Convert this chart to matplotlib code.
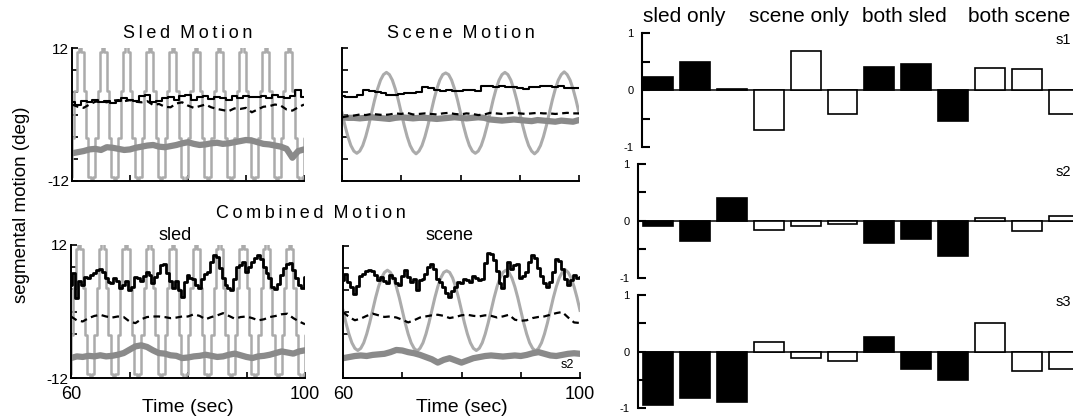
import matplotlib
matplotlib.use("Agg")
import matplotlib.pyplot as plt
import numpy as np

plt.rcParams['font.family'] = ['Liberation Sans', 'DejaVu Sans']

# ---------------- time series data ----------------
t_stair = np.linspace(59.6, 100.4, 103)      # sled stimulus steps, 0.4 s
t_half = np.linspace(60, 100, 81)            # 0.5 s samples
t_one = np.linspace(60, 100, 41)             # 1 s samples

sled_stim = [
    -11.3, -4.3, 4.3, 11.3, 14.0, 11.3, 4.3, -4.3, -11.3, -14.0,
    -11.3, -4.3, 4.3, 11.3, 14.0, 11.3, 4.3, -4.3, -11.3, -14.0,
    -11.3, -4.3, 4.3, 11.3, 14.0, 11.3, 4.3, -4.3, -11.3, -14.0,
    -11.3, -4.3, 4.3, 11.3, 14.0, 11.3, 4.3, -4.3, -11.3, -14.0,
    -11.3, -4.3, 4.3, 11.3, 14.0, 11.3, 4.3, -4.3, -11.3, -14.0,
    -11.3, -4.3, 4.3, 11.3, 14.0, 11.3, 4.3, -4.3, -11.3, -14.0,
    -11.3, -4.3, 4.3, 11.3, 14.0, 11.3, 4.3, -4.3, -11.3, -14.0,
    -11.3, -4.3, 4.3, 11.3, 14.0, 11.3, 4.3, -4.3, -11.3, -14.0,
    -11.3, -4.3, 4.3, 11.3, 14.0, 11.3, 4.3, -4.3, -11.3, -14.0,
    -11.3, -4.3, 4.3, 11.3, 14.0, 11.3, 4.3, -4.3, -11.3, -14.0,
    -11.3, -4.3, 4.3,
]

scene_stim = [
    0.3, -2.0, -4.0, -5.6, -6.6, -7.0, -6.6, -5.6, -4.0, -2.0,
    0.3, 2.6, 4.6, 6.2, 7.2, 7.6, 7.2, 6.2, 4.6, 2.6,
    0.3, -2.0, -4.0, -5.6, -6.6, -7.1, -6.6, -5.6, -4.0, -2.0,
    0.3, 2.6, 4.6, 6.2, 7.2, 7.5, 7.2, 6.2, 4.6, 2.6,
    0.3, -2.0, -4.0, -5.6, -6.6, -7.0, -6.6, -5.6, -4.0, -2.0,
    0.3, 2.6, 4.6, 6.2, 7.2, 7.6, 7.2, 6.2, 4.6, 2.6,
    0.3, -2.0, -4.0, -5.6, -6.6, -7.1, -6.6, -5.6, -4.0, -2.0,
    0.3, 2.6, 4.6, 6.2, 7.2, 7.7, 7.2, 6.2, 4.6, 2.6,
    0.3,
]

# Sled Motion (1 s)
sled_solid = [2.3, 1.8, 2.5, 2.2, 2.6, 2.3, 2.5, 2.1, 2.4, 2.9, 2.6, 2.5, 3.4, 3.5,
              2.2, 2.5, 2.9, 3.1, 2.6, 3.3, 3.5, 2.7, 3.1, 3.4, 2.8, 3.2, 3.0, 2.7,
              3.3, 3.0, 3.4, 3.1, 3.2, 3.4, 3.0, 3.5, 3.2, 3.0, 3.3, 4.4, 3.2]
sled_dash = [1.8, 1.4, 1.2, 1.8, 2.3, 2.4, 2.2, 2.5, 2.6, 2.4, 2.6, 2.3, 2.2, 2.4,
             1.7, 1.9, 1.4, 1.3, 2.0, 2.2, 1.6, 1.2, 1.5, 1.8, 1.3, 1.0, 0.8, 0.6,
             1.1, 1.0, 1.2, 0.4, 0.9, 1.4, 1.5, 1.8, 1.6, 0.9, 0.7, 1.3, 1.8]
sled_grey = [-7.0, -6.8, -6.6, -6.3, -6.2, -6.4, -5.9, -6.0, -6.2, -6.4, -6.3, -6.0,
             -5.8, -5.6, -5.5, -5.8, -5.9, -5.7, -5.5, -5.2, -5.0, -5.3, -5.5, -5.4,
             -5.2, -5.1, -5.3, -5.2, -5.0, -4.8, -4.6, -4.7, -5.0, -5.3, -5.4, -5.6,
             -5.8, -6.2, -7.8, -6.6, -6.3]

# Scene Motion (1 s)
scene_solid = [3.3, 3.1, 3.2, 3.6, 4.4, 4.2, 4.0, 3.8, 3.6, 3.6, 3.7, 3.8, 3.9, 4.0,
               5.0, 4.8, 4.5, 4.3, 4.4, 4.2, 4.3, 4.4, 4.5, 4.3, 5.1, 5.1, 5.0, 5.1,
               5.0, 4.9, 4.7, 4.6, 4.9, 5.0, 5.1, 5.2, 5.0, 5.1, 4.8, 4.7, 4.7]
scene_dash = [-0.5, -0.3, -0.2, 0.0, -0.1, 0.1, 0.0, -0.1, 0.0, 0.2, 0.1, 0.3, 0.0,
              0.1, 0.2, 0.1, 0.0, 0.2, 0.3, 0.1, 0.0, 0.2, 0.1, -0.1, 0.0, 0.3, 0.2,
              0.1, 0.2, 0.3, 0.2, 0.1, 0.2, 0.3, 0.2, 0.2, 0.1, 0.2, 0.3, 0.2, 0.2]
scene_grey = [-0.5, -0.6, -0.6, -0.7, -0.6, -0.5, -0.6, -0.7, -0.8, -0.6, -0.5, -0.6,
              -0.7, -0.6, -0.6, -0.7, -0.8, -0.7, -0.6, -0.5, -0.6, -0.7, -0.6, -0.5,
              -0.6, -0.9, -1.0, -1.1, -1.0, -0.9, -1.0, -1.1, -1.2, -1.0, -1.1, -1.2,
              -1.3, -1.1, -1.2, -1.3, -1.0]

# Combined Motion, sled (solid 0.5 s, others 1 s)
comb_sled_solid = [4.8, 6.9, 2.4, 5.5, 4.8, 6.3, 6.0, 6.6, 7.0, 7.5, 7.6, 7.2, 6.0, 5.4,
                   5.2, 6.0, 5.5, 4.2, 4.8, 5.5, 3.9, 4.5, 6.3, 6.0, 5.5, 6.4, 7.2, 6.5,
                   5.2, 6.3, 7.0, 8.4, 8.6, 7.0, 5.5, 4.2, 5.5, 3.9, 2.7, 5.3, 6.5, 6.0,
                   5.8, 4.8, 4.2, 5.8, 6.8, 7.2, 9.0, 10.2, 9.8, 7.8, 6.0, 4.8, 4.2, 3.9,
                   5.8, 8.0, 8.4, 8.9, 7.2, 8.0, 9.0, 9.6, 10.2, 9.5, 8.0, 7.0, 6.0, 4.5,
                   4.0, 5.0, 6.5, 7.8, 8.6, 8.8, 7.5, 6.0, 4.8, 4.2, 6.3]
comb_sled_dash = [-0.9, -1.6, -1.8, -1.2, -0.8, -0.6, -0.9, -1.1, -0.9, -1.0, -1.8,
                  -2.1, -1.4, -1.0, -0.9, -0.9, -1.0, -1.2, -1.1, -0.9, -0.9, -0.5,
                  -0.8, -1.4, -1.0, -0.7, -0.3, -0.8, -1.3, -1.0, -0.9, -1.2, -1.6,
                  -1.4, -1.0, -0.8, -0.5, -0.4, -1.2, -1.8, -2.3]
comb_sled_grey = [-8.4, -8.1, -8.2, -8.0, -8.1, -7.9, -8.1, -8.0, -7.8, -7.5, -6.9,
                  -6.3, -6.1, -6.4, -7.0, -7.5, -7.6, -7.9, -8.0, -8.4, -8.3, -8.1,
                  -8.0, -7.8, -8.0, -8.2, -8.1, -7.8, -7.6, -7.9, -8.2, -8.4, -8.1,
                  -8.0, -7.8, -7.5, -7.2, -7.4, -7.6, -7.2, -7.0]

# Combined Motion, scene
comb_scene_solid = [5.8, 7.0, 5.5, 4.5, 3.2, 4.8, 6.5, 7.0, 7.5, 7.6, 7.4, 6.8, 5.8, 6.3,
                    5.6, 5.2, 6.8, 6.2, 5.2, 5.0, 6.5, 7.6, 6.4, 5.5, 6.0, 4.0, 5.8, 6.0,
                    7.0, 8.2, 8.8, 7.8, 6.0, 5.5, 4.5, 3.5, 2.8, 3.8, 4.5, 5.5, 5.3, 6.0,
                    5.8, 5.5, 6.6, 6.2, 5.8, 6.0, 9.0, 10.8, 10.5, 9.5, 7.5, 5.2, 4.3, 6.5,
                    9.1, 7.8, 8.5, 8.8, 6.2, 6.5, 7.2, 9.1, 10.3, 9.8, 8.0, 6.5, 5.2, 4.6,
                    5.5, 7.2, 9.6, 9.3, 7.8, 6.0, 4.9, 5.8, 6.8, 6.1, 6.3]
comb_scene_dash = [0.0, -0.9, -1.5, -1.2, -0.7, -0.3, -0.6, -0.9, -0.8, -1.0, -1.4,
                   -1.9, -1.5, -1.0, -0.8, -0.6, -0.5, -0.7, -1.1, -0.9, -0.6, -0.5,
                   -0.7, -0.8, -0.6, -0.7, -1.0, -0.8, -0.5, -1.4, -1.6, -1.5, -1.1,
                   -0.9, -0.8, -0.5, -0.2, 0.0, -1.0, -1.9, -2.0]
comb_scene_grey = [-8.4, -8.2, -8.0, -7.9, -8.0, -7.8, -7.7, -7.6, -7.3, -6.9, -7.0,
                   -7.3, -7.5, -7.8, -8.2, -8.6, -9.2, -8.7, -8.4, -8.8, -9.2, -8.8,
                   -8.4, -8.2, -8.0, -7.9, -8.0, -8.1, -8.0, -7.9, -8.0, -7.8, -7.5,
                   -7.3, -7.6, -7.9, -8.0, -7.8, -7.6, -7.5, -7.6]

# ---------------- bar data ----------------
bar_groups = ['sled only', 'scene only', 'both sled', 'both scene']
bar_fill = ['black', 'white', 'black', 'white']
subjects = ['s1', 's2', 's3']
s1_vals = [0.23, 0.49, 0.02, -0.71, 0.69, -0.42, 0.40, 0.46, -0.54, 0.38, 0.36, -0.42]
s2_vals = [-0.09, -0.35, 0.41, -0.15, -0.09, -0.06, -0.38, -0.31, -0.61, 0.05, -0.18, 0.08]
s3_vals = [-0.94, -0.82, -0.89, 0.16, -0.11, -0.16, 0.25, -0.31, -0.50, 0.51, -0.34, -0.31]

W, H = 1073, 416
fig = plt.figure(figsize=(W / 100, H / 100), dpi=100)


def px_rect(left, right, top, bottom):
    return [left / W, 1 - bottom / H, (right - left) / W, (bottom - top) / H]


def spaced(s):
    return '\u2009'.join(s)


STIM = '#ababab'
BODY = '#8a8a8a'


def trace_panel(rect, stim_t, stim, solid_t, solid, dash, grey, stair, show_y, show_x, bold):
    ax = fig.add_axes(rect)
    if stair:
        ax.plot(stim_t, stim, color=STIM, lw=1.8, drawstyle='steps-post')
    else:
        ax.plot(stim_t, stim, color=STIM, lw=2.2)
    ax.plot(t_one, grey, color=BODY, lw=4.5, solid_capstyle='round')
    ax.plot(t_one, dash, color='black', lw=1.6, ls=(0, (3, 2)))
    ax.plot(solid_t, solid, color='black', lw=2.0 if bold else 1.5, drawstyle='steps-mid')
    ax.set_xlim(60, 100)
    ax.set_ylim(-12, 12)
    for s in ['top', 'right']:
        ax.spines[s].set_visible(False)
    for s in ['left', 'bottom']:
        ax.spines[s].set_linewidth(1.4)
    ax.set_yticks([-12, -8, -4, 0, 4, 8, 12])
    ax.set_xticks([60, 70, 80, 90, 100])
    ax.set_yticklabels(['-12', '', '', '', '', '', '12'] if show_y else [])
    ax.set_xticklabels(['60', '', '', '', '100'] if show_x else [])
    ax.tick_params(axis='both', direction='in', length=4, width=1.2)
    ax.tick_params(axis='y', labelsize=11, pad=2)
    ax.tick_params(axis='x', labelsize=13, pad=6)
    return ax


ax1 = trace_panel(px_rect(72, 304, 48, 181), t_stair, sled_stim, t_one, sled_solid,
                  sled_dash, sled_grey, True, True, False, False)
ax1.set_title(spaced('Sled') + '  ' + spaced('Motion'), fontsize=13, pad=7)
ax2 = trace_panel(px_rect(342, 579, 48, 181), t_half, scene_stim, t_one, scene_solid,
                  scene_dash, scene_grey, False, False, False, False)
ax2.set_title(spaced('Scene') + '  ' + spaced('Motion'), fontsize=13, pad=7)
ax3 = trace_panel(px_rect(71, 305, 245, 378), t_stair, sled_stim, t_half, comb_sled_solid,
                  comb_sled_dash, comb_sled_grey, True, True, True, True)
ax3.set_xlabel('Time (sec)', fontsize=14, labelpad=-3)
ax4 = trace_panel(px_rect(343, 580, 246, 378), t_half, scene_stim, t_half, comb_scene_solid,
                  comb_scene_dash, comb_scene_grey, False, False, True, True)
ax4.set_xlabel('Time (sec)', fontsize=14, labelpad=-3)
ax4.text(0.975, 0.05, 's2', transform=ax4.transAxes, ha='right', va='bottom', fontsize=9)

fig.text(311 / W, 1 - 218 / H, spaced('Combined') + '  ' + spaced('Motion'),
         fontsize=13, ha='center', va='baseline')
fig.text(175 / W, 1 - 240 / H, 'sled', fontsize=13, ha='center', va='baseline')
fig.text(449 / W, 1 - 240 / H, 'scene', fontsize=13, ha='center', va='baseline')
fig.text(22 / W, 1 - 205 / H, 'segmental motion (deg)', fontsize=13.5, rotation=90,
         ha='center', va='center')

# ---------------- bar panels ----------------
xpos = np.arange(1, 13)
colors = [c for c in bar_fill for _ in range(3)]
bar_rows = [(s1_vals, 642, 33, 147), (s2_vals, 638, 164, 278), (s3_vals, 638, 295, 408)]
unit = 36.9
for vals, left, top, bottom in bar_rows:
    xl = 1 - (658 - left) / unit
    right = left + (12.5 - xl) * unit
    ax = fig.add_axes(px_rect(left, right, top, bottom))
    ax.axhline(0, color='black', lw=1.1, zorder=1)
    ax.bar(xpos, vals, width=0.81, color=colors, edgecolor='black', linewidth=1.2, zorder=2)
    ax.set_xlim(xl, 12.5)
    ax.set_ylim(-1, 1)
    for s in ['top', 'right', 'bottom']:
        ax.spines[s].set_visible(False)
    ax.spines['left'].set_linewidth(1.5)
    ax.set_xticks([])
    ax.set_yticks([-1, -0.5, 0, 0.5, 1])
    ax.set_yticklabels(['-1', '', '0', '', '1'])
    ax.tick_params(axis='y', direction='in', length=6, width=1.5, labelsize=8, pad=6)

for name, xc in zip(bar_groups, [684, 799, 904, 1019]):
    fig.text(xc / W, 1 - 17 / H, name, fontsize=15, ha='center', va='center',
             family=['Liberation Sans Narrow', 'Liberation Sans', 'DejaVu Sans'])
for name, yc in zip(subjects, [40, 172, 302]):
    fig.text(1071 / W, 1 - yc / H, name, fontsize=10.5, ha='right', va='center')

fig.savefig('out.png', dpi=100)
